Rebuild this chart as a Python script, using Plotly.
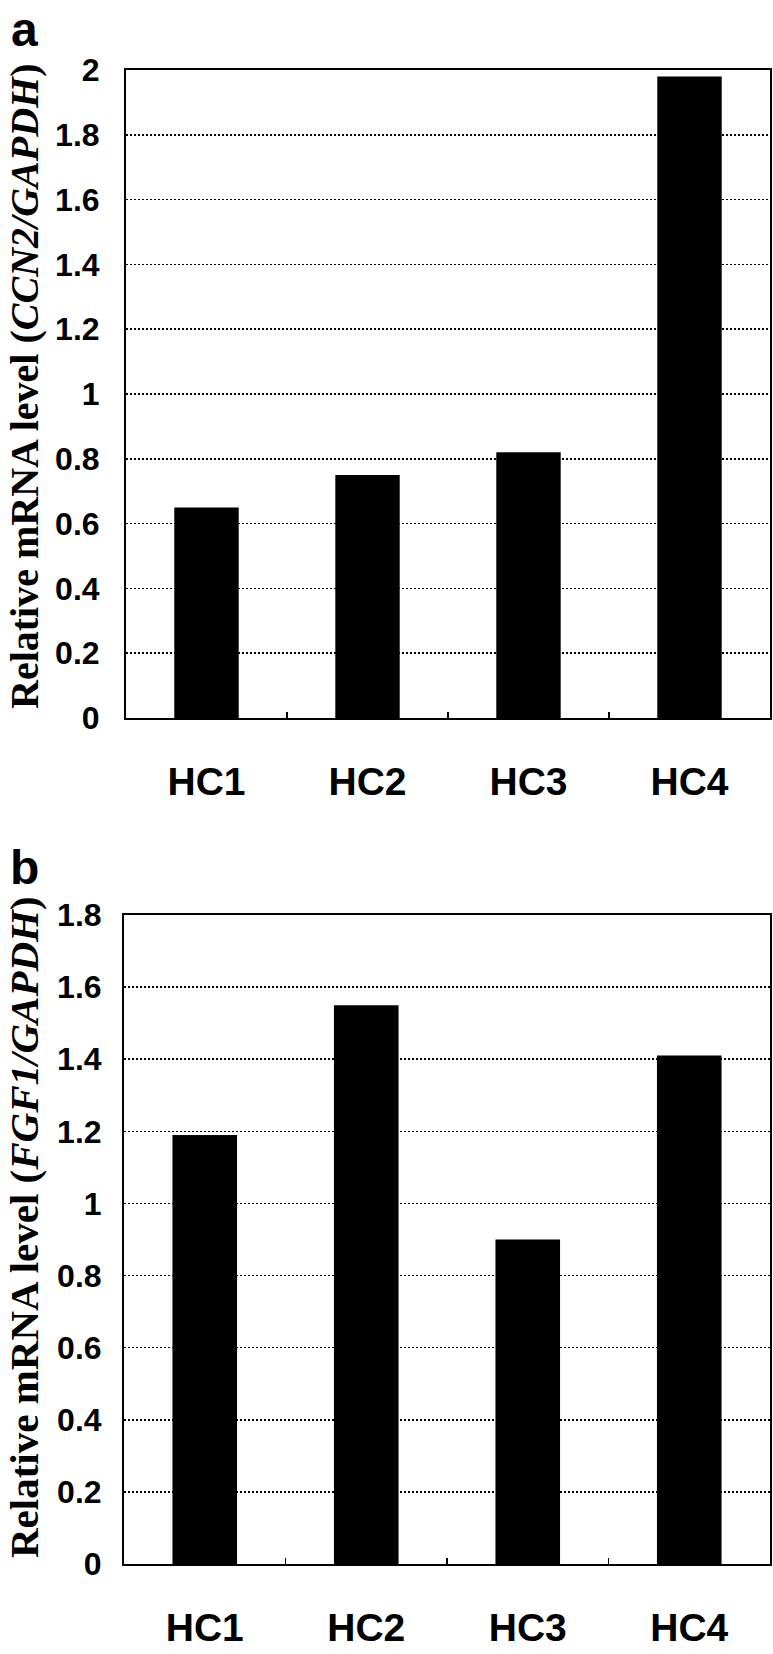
import plotly.graph_objects as go

W, H = 773, 1654

categories = ["HC1", "HC2", "HC3", "HC4"]
ccn2_values = [0.65, 0.75, 0.82, 1.98]
fgf1_values = [1.19, 1.55, 0.90, 1.41]

ytick_a = [0, 0.2, 0.4, 0.6, 0.8, 1.0, 1.2, 1.4, 1.6, 1.8, 2.0]
ytext_a = ["0", "0.2", "0.4", "0.6", "0.8", "1", "1.2", "1.4", "1.6", "1.8", "2"]
ytick_b = [0, 0.2, 0.4, 0.6, 0.8, 1.0, 1.2, 1.4, 1.6, 1.8]
ytext_b = ["0", "0.2", "0.4", "0.6", "0.8", "1", "1.2", "1.4", "1.6", "1.8"]

title_a = "<b>Relative mRNA level (<i>CCN2/GAPDH</i>)</b>"
title_b = "<b>Relative mRNA level (<i>FGF1/GAPDH</i>)</b>"


def px_x(p):
    return p / W


def px_y(p):
    return 1 - p / H


fig = go.Figure()
fig.add_trace(go.Bar(x=categories, y=ccn2_values, xaxis="x", yaxis="y",
                     marker=dict(color="black", line=dict(width=0)), width=0.4))
fig.add_trace(go.Bar(x=categories, y=fgf1_values, xaxis="x2", yaxis="y2",
                     marker=dict(color="black", line=dict(width=0)), width=0.4))

sans = "Liberation Sans"
serif = "Liberation Serif"

xcommon = dict(showline=True, mirror=True, linecolor="black", linewidth=2,
               ticks="inside", tickson="boundaries", ticklen=6, tickwidth=1.5,
               tickcolor="black", showgrid=False, zeroline=False, automargin=False,
               tickfont=dict(family=sans, size=39, color="black", weight="bold"),
               ticklabelstandoff=28, fixedrange=True)
ycommon = dict(showline=True, mirror=True, linecolor="black", linewidth=2,
               ticks="", showgrid=True, gridcolor="black", gridwidth=1.5,
               griddash="2px,2px", zeroline=False, automargin=False,
               tickfont=dict(family=sans, size=32, color="black", weight="bold"),
               fixedrange=True)

fig.update_layout(
    width=W, height=H,
    margin=dict(l=0, r=0, t=0, b=0, autoexpand=False),
    paper_bgcolor="white", plot_bgcolor="white",
    showlegend=False,
    bargap=0.6,
    xaxis=dict(domain=[px_x(126), px_x(770)], anchor="y", **xcommon),
    yaxis=dict(domain=[px_y(718), px_y(70)], anchor="x", range=[0, 2],
               tickvals=ytick_a, ticktext=ytext_a, ticklabelstandoff=18, **ycommon),
    xaxis2=dict(domain=[px_x(124), px_x(770)], anchor="y2", **xcommon),
    yaxis2=dict(domain=[px_y(1564), px_y(915)], anchor="x2", range=[0, 1.8],
                tickvals=ytick_b, ticktext=ytext_b, ticklabelstandoff=14, **ycommon),
    annotations=[
        dict(text=title_a, textangle=-90, xref="paper", yref="paper",
             x=px_x(24), y=px_y(387), xanchor="center", yanchor="middle",
             showarrow=False, font=dict(family=serif, size=40, color="black")),
        dict(text=title_b, textangle=-90, xref="paper", yref="paper",
             x=px_x(24), y=px_y(1227), xanchor="center", yanchor="middle",
             showarrow=False, font=dict(family=serif, size=41, color="black")),
        dict(text="<b>a</b>", xref="paper", yref="paper",
             x=px_x(9), y=px_y(1), xanchor="left", yanchor="top",
             showarrow=False, font=dict(family=sans, size=48, color="black")),
        dict(text="<b>b</b>", xref="paper", yref="paper",
             x=px_x(8), y=px_y(868), xanchor="left", yanchor="middle",
             showarrow=False, font=dict(family=sans, size=48, color="black")),
    ],
)

fig.write_html(
    "out.html",
    config={"displayModeBar": False, "staticPlot": True},
    post_script="document.body.style.margin='0';document.body.style.overflow='hidden';",
)
